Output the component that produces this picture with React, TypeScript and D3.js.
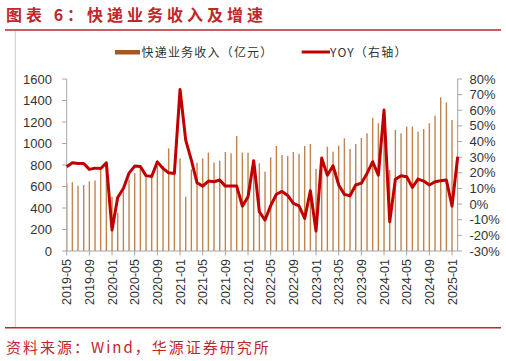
import * as d3 from "d3";
import React, { useEffect, useRef } from "react";

// 2019-05 .. 2025-02, one entry per month
const months = d3
  .timeMonths(new Date(2019, 4, 1), new Date(2025, 2, 1))
  .map((d) => d3.timeFormat("%Y-%m")(d));

// 快递业务收入（亿元）
const revenue = [
  630, 640, 607, 614, 648, 655, 766, 815, 505, 356, 555, 665, 725, 770, 705, 700,
  790, 790, 955, 730, 862, 505, 760, 822, 862, 915, 822, 840, 921, 909, 1070, 915,
  915, 780, 816, 738, 871, 977, 893, 884, 921, 902, 977, 995, 765, 870, 970, 924,
  980, 1048, 949, 995, 1052, 1095, 1240, 1188, 1180, 753, 1126, 1095, 1157, 1157,
  1110, 1135, 1188, 1259, 1430, 1383, 1219, 1200,
];

// YOY（右轴）, %
const yoy = [
  23.9, 26.4, 26.0, 26.0, 22.2, 23.0, 22.8, 26.4, -16.6, 4.2, 10.0, 19.8, 24.3,
  24.0, 18.2, 17.7, 27.0, 22.8, 20.0, 19.6, 73.3, 40.9, 28.1, 13.6, 11.5, 14.7,
  14.3, 15.4, 11.5, 11.5, 11.5, -1.3, 4.7, 27.7, -4.9, -10.2, -1.0, 6.3, 8.1, 5.5,
  0.4, -1.1, -9.2, 8.5, -17.2, 29.4, 18.5, 24.5, 12.2, 6.2, 5.3, 12.2, 13.4, 19.6,
  27.1, 18.5, 60.1, -11.3, 15.8, 18.1, 17.5, 10.7, 16.0, 14.7, 12.2, 14.3, 14.9,
  15.4, -1.3, 30.3,
];

const tickLabels = [
  "2019-05", "2019-09", "2020-01", "2020-05", "2020-09", "2021-01", "2021-05",
  "2021-09", "2022-01", "2022-05", "2022-09", "2023-01", "2023-05", "2023-09",
  "2024-01", "2024-05", "2024-09", "2025-01",
];
const leftTicks = [0, 200, 400, 600, 800, 1000, 1200, 1400, 1600];
const rightTicks = [-30, -20, -10, 0, 10, 20, 30, 40, 50, 60, 70, 80];

const W = 506;
const H = 361;
const RED = "#C0272D";
const BAR = "#C0844F";
const LINE = "#C00000";
const AXIS = "#A6A6A6";
const NUM_FONT = "'Liberation Sans', Arial, sans-serif";
const CJK_FONT = "'Noto Sans CJK SC', sans-serif";

export default function App() {
  const ref = useRef<SVGSVGElement>(null);

  useEffect(() => {
    const svg = d3.select(ref.current);
    svg.selectAll("*").remove();

    const left = 66.7, right = 457.7, top = 79, bottom = 251;

    const x = d3.scalePoint().domain(months).range([left, right]);
    const y = d3.scaleLinear().domain([0, 1600]).range([bottom, top]);
    const y2 = d3.scaleLinear().domain([-30, 80]).range([bottom, top]);

    // title
    svg.append("text")
      .attr("x", 6).attr("y", 21)
      .attr("fill", RED)
      .style("font-family", CJK_FONT)
      .style("font-weight", 700)
      .style("font-size", "16px")
      .style("letter-spacing", "4px")
      .text("图表 6：快递业务收入及增速");

    svg.append("line")
      .attr("x1", 5).attr("x2", 501).attr("y1", 30).attr("y2", 30)
      .attr("stroke", RED).attr("stroke-width", 1.5);
    svg.append("line")
      .attr("x1", 15.3).attr("x2", 15.3).attr("y1", 31).attr("y2", 327)
      .attr("stroke", "#CCCCCC").attr("stroke-width", 1);
    svg.append("line")
      .attr("x1", 5).attr("x2", 501).attr("y1", 327.7).attr("y2", 327.7)
      .attr("stroke", RED).attr("stroke-width", 1.5);

    // source
    svg.append("text")
      .attr("x", 6).attr("y", 353)
      .attr("fill", RED)
      .style("font-family", CJK_FONT)
      .style("font-size", "15px")
      .style("letter-spacing", "2px")
      .text("资料来源：Wind，华源证券研究所");

    // legend
    const lg = svg.append("g");
    lg.append("rect").attr("x", 115).attr("y", 50).attr("width", 25).attr("height", 4.5).attr("fill", "#A9561F");
    lg.append("text").attr("x", 141.5).attr("y", 56.5)
      .attr("fill", "#333").style("font-family", CJK_FONT).style("font-size", "12px").style("letter-spacing", "1.2px")
      .text("快递业务收入（亿元）");
    lg.append("line").attr("x1", 301.7).attr("x2", 330).attr("y1", 52).attr("y2", 52)
      .attr("stroke", LINE).attr("stroke-width", 3);
    lg.append("text").attr("x", 330).attr("y", 56.5)
      .attr("fill", "#333").style("font-family", CJK_FONT).style("font-size", "12px").style("letter-spacing", "1.2px")
      .text("YOY（右轴）");

    // bars, clipped to plot area
    svg.append("clipPath").attr("id", "plot-clip")
      .append("rect").attr("x", left).attr("y", 0).attr("width", right - left).attr("height", bottom);
    svg.append("g")
      .attr("clip-path", "url(#plot-clip)")
      .selectAll("rect")
      .data(revenue)
      .enter()
      .append("rect")
      .attr("x", (d, i) => x(months[i]) - 0.7)
      .attr("width", 1.4)
      .attr("y", (d) => y(d))
      .attr("height", (d) => bottom - y(d))
      .attr("fill", BAR);

    // axes
    const axisG = svg.append("g").attr("stroke", AXIS).attr("stroke-width", 1);
    axisG.append("line").attr("x1", left).attr("x2", left).attr("y1", top).attr("y2", bottom);
    axisG.append("line").attr("x1", right).attr("x2", right).attr("y1", top).attr("y2", bottom);
    axisG.append("line").attr("x1", left).attr("x2", right).attr("y1", bottom).attr("y2", bottom);
    leftTicks.forEach((t) => {
      axisG.append("line").attr("x1", left - 4.5).attr("x2", left).attr("y1", y(t)).attr("y2", y(t));
    });
    rightTicks.forEach((t) => {
      axisG.append("line").attr("x1", right).attr("x2", right + 4.5).attr("y1", y2(t)).attr("y2", y2(t));
    });
    tickLabels.forEach((t) => {
      axisG.append("line").attr("x1", x(t)).attr("x2", x(t)).attr("y1", bottom).attr("y2", bottom + 4.5);
    });

    svg.append("g")
      .selectAll("text")
      .data(leftTicks)
      .enter()
      .append("text")
      .attr("x", 52).attr("y", (d) => y(d) + 4.5)
      .attr("text-anchor", "end")
      .attr("fill", "#333")
      .style("font-family", NUM_FONT).style("font-size", "13px")
      .text((d) => d);

    svg.append("g")
      .selectAll("text")
      .data(rightTicks)
      .enter()
      .append("text")
      .attr("x", 469.5).attr("y", (d) => y2(d) + 4.5)
      .attr("fill", "#333")
      .style("font-family", NUM_FONT).style("font-size", "13px")
      .text((d) => `${d}%`);

    svg.append("g")
      .selectAll("text")
      .data(tickLabels)
      .enter()
      .append("text")
      .attr("transform", (d) => `translate(${x(d) + 4.5},${bottom + 8}) rotate(-90)`)
      .attr("text-anchor", "end")
      .attr("fill", "#333")
      .style("font-family", NUM_FONT).style("font-size", "12.5px")
      .text((d) => d);

    // YOY line
    const line = d3.line<number>()
      .x((d, i) => x(months[i]))
      .y((d) => y2(d));
    svg.append("path")
      .datum(yoy)
      .attr("d", line)
      .attr("fill", "none")
      .attr("stroke", LINE)
      .attr("stroke-width", 3)
      .attr("stroke-linejoin", "round");
  }, []);

  return (
    <svg
      ref={ref}
      width={W}
      height={H}
      style={{ position: "absolute", left: 0, top: 0, background: "#fff" }}
    />
  );
}
